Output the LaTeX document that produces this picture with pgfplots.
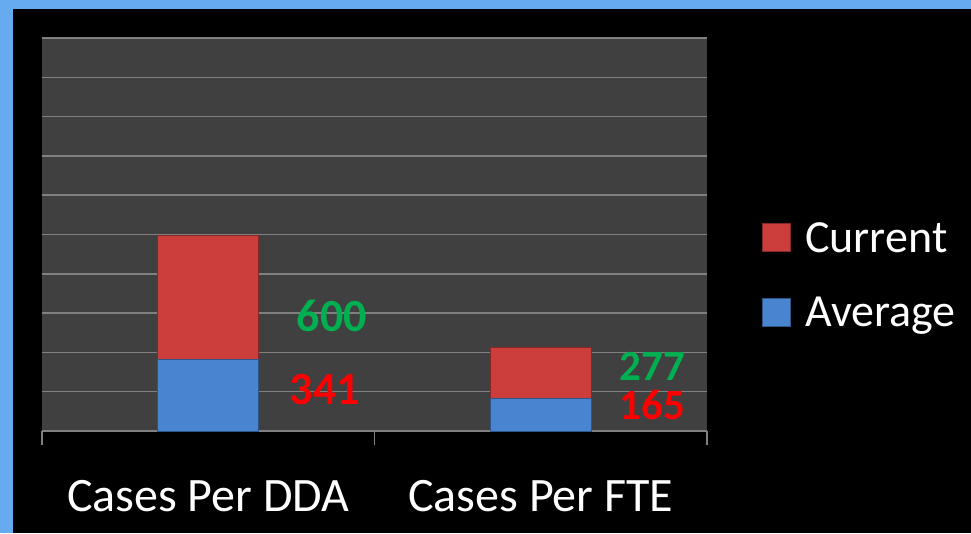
\documentclass[border=0pt]{standalone}
\usepackage{pgfplots}
\pgfplotsset{compat=1.18}
\usepackage{fontspec}
\setmainfont{Carlito}

\definecolor{slideblue}{RGB}{102,170,240}
\definecolor{plotgray}{RGB}{64,64,64}
\definecolor{gridgray}{RGB}{128,128,128}
\definecolor{barred}{RGB}{204,62,60}
\definecolor{barblue}{RGB}{72,132,208}
\definecolor{lblgreen}{RGB}{0,176,80}
\definecolor{lblred}{RGB}{255,0,0}

\begin{document}
\begin{tikzpicture}
% slide background
\fill[slideblue] (0,0) rectangle (971pt,-533pt);
\fill[black] (13pt,-9pt) rectangle (971pt,-533pt);
\begin{axis}[
    at={(42pt,-431pt)}, anchor=south west,
    scale only axis, width=665pt, height=393pt,
    ybar stacked, bar width=101pt,
    xmin=-0.5, xmax=1.5, ymin=0, ymax=2000,
    axis background/.style={fill=plotgray},
    axis line style={draw=none},
    tick pos=bottom,
    xtick={0,1}, xticklabels={Cases Per DDA, Cases Per FTE},
    ytick={0,200,...,2000}, yticklabels={},
    major tick length=0pt,
    tick style={draw=gridgray, line width=1.5pt},
    extra x ticks={-0.5,0.5,1.5}, extra x tick labels={},
    extra x tick style={tick align=outside, major tick length=14pt},
    ymajorgrids, grid style={draw=gridgray, line width=1.5pt},
    xticklabel style={font=\fontsize{48}{56}\selectfont, text=white, anchor=base, yshift=-80pt},
    legend cell align=left,
    reverse legend,
    legend image code/.code={\draw[#1] (0pt,-14pt) rectangle (28pt,14pt); \path (42pt,0pt);},
    legend style={at={(1.083,0.397)}, anchor=west, draw=none, fill=none,
        inner sep=0pt, outer sep=0pt, text=white,
        font=\fontsize{46}{52}\selectfont, row sep=43pt,
        nodes={inner sep=0pt}},
]
\addplot[fill=barblue, draw=barblue!65!black, line width=1pt] coordinates {(0,366) (1,163)};
\addplot[fill=barred, draw=barred!65!black, line width=1pt] coordinates {(0,631) (1,260)};
\legend{Average, Current}

\node[inner sep=0pt, font=\bfseries\fontsize{46}{52}\selectfont, text=lblgreen] at (axis cs:0.372,585) {600};
\node[inner sep=0pt, font=\bfseries\fontsize{46}{52}\selectfont, text=lblred] at (axis cs:0.351,209) {341};
\node[inner sep=0pt, font=\bfseries\fontsize{43}{48}\selectfont, text=lblgreen] at (axis cs:1.335,327) {277};
\node[inner sep=0pt, font=\bfseries\fontsize{43}{48}\selectfont, text=lblred] at (axis cs:1.335,131) {165};
\end{axis}
\pgfresetboundingbox
\useasboundingbox (0,0) rectangle (971pt,-533pt);
\end{tikzpicture}
\end{document}
